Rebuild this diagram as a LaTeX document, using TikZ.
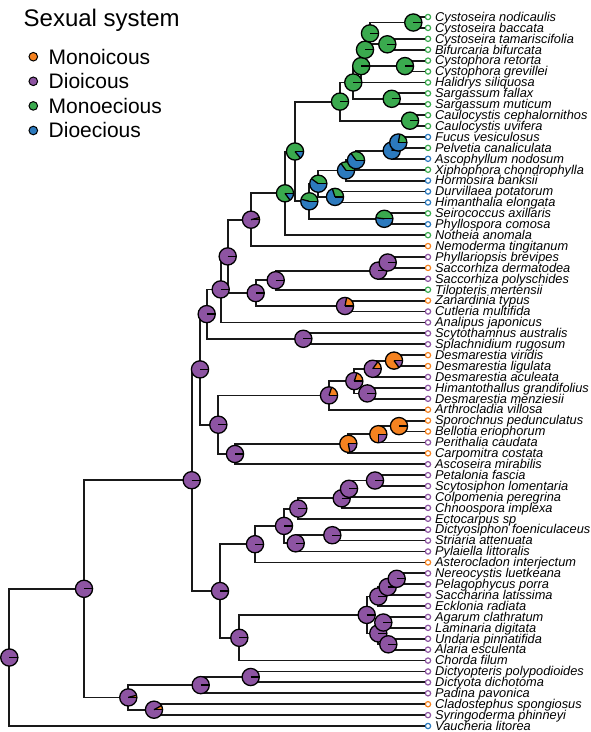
\documentclass[tikz,border=0pt]{standalone}
\usepackage{fontspec}
\setmainfont{Liberation Sans}
\definecolor{cO}{RGB}{245,130,32}
\definecolor{cP}{RGB}{141,84,162}
\definecolor{cG}{RGB}{58,170,78}
\definecolor{cB}{RGB}{44,122,190}
\def\pieR{8.6pt}
\newcommand{\piecut}[2]{\ifdim #2pt>0.5pt \ifdim #2pt<359.5pt \draw[pieline] (#1) -- ++(#2:\pieR);\fi\fi}
\newcommand{\drawpie}[5]{%
  \pgfmathsetmacro\pieA{360*#2}%
  \pgfmathsetmacro\pieB{360*(#2+#3)}%
  \pgfmathsetmacro\pieC{360*(#2+#3+#4)}%
  \ifdim #2pt>0pt \fill[cO] (#1) -- ++(0:\pieR) arc[start angle=0,end angle=\pieA,radius=\pieR] -- cycle;\fi
  \ifdim #3pt>0pt \fill[cP] (#1) -- ++(\pieA:\pieR) arc[start angle=\pieA,end angle=\pieB,radius=\pieR] -- cycle;\fi
  \ifdim #4pt>0pt \fill[cG] (#1) -- ++(\pieB:\pieR) arc[start angle=\pieB,end angle=\pieC,radius=\pieR] -- cycle;\fi
  \ifdim #5pt>0pt \fill[cB] (#1) -- ++(\pieC:\pieR) arc[start angle=\pieC,end angle=360,radius=\pieR] -- cycle;\fi
  \draw[pieline] (#1) circle[radius=\pieR];
  \draw[pieline] (#1) -- ++(0:\pieR);
  \piecut{#1}{\pieA}\piecut{#1}{\pieB}\piecut{#1}{\pieC}%
}
\newcommand{\tip}[4]{%
  \node[tipdot, draw=#3] (#1) at (428, {17+(#2-1)*10.908}) {};
  \node[tiplab] (#1l) at (435, {17+(#2-1)*10.908+4.3}) {#4};
}
\newcommand{\edg}[3]{\draw[edge] (#1) |- (#2); \draw[edge] (#1) |- (#3);}
\begin{document}
\begin{tikzpicture}[x=1pt,y=-1pt,
  edge/.style={line width=1.8pt, line join=miter, black!90},
  pieline/.style={line width=1.3pt, black},
  tipdot/.style={circle, fill=white, line width=1.2pt, minimum size=5.3pt, inner sep=0pt},
  tiplab/.style={anchor=base west, inner sep=0pt, font=\fontsize{12.8pt}{13pt}\selectfont\itshape},
  legtxt/.style={anchor=base west, inner sep=0pt, font=\fontsize{21pt}{24pt}\selectfont},
  legdot/.style={circle, draw=black, line width=1pt, minimum size=8.6pt, inner sep=0pt}]
\useasboundingbox (0,0) rectangle (591,732);
% legend
\node[anchor=base west, inner sep=0pt, font=\fontsize{24pt}{28pt}\selectfont] (title) at (23.5,26) {Sexual system};
\node[legdot, fill=cO] (d1) at (33.3,56.7) {};
\node[legtxt] (l1) at (48.5,64) {Monoicous};
\node[legdot, fill=cP] (d2) at (33.3,81.3) {};
\node[legtxt] (l2) at (48.5,88.6) {Dioicous};
\node[legdot, fill=cG] (d3) at (33.3,105.9) {};
\node[legtxt] (l3) at (48.5,113.2) {Monoecious};
\node[legdot, fill=cB] (d4) at (33.3,130.5) {};
\node[legtxt] (l4) at (48.5,137.8) {Dioecious};
% tips
\tip{t1}{1}{cG}{Cystoseira nodicaulis}
\tip{t2}{2}{cG}{Cystoseira baccata}
\tip{t3}{3}{cG}{Cystoseira tamariscifolia}
\tip{t4}{4}{cG}{Bifurcaria bifurcata}
\tip{t5}{5}{cG}{Cystophora retorta}
\tip{t6}{6}{cG}{Cystophora grevillei}
\tip{t7}{7}{cG}{Halidrys siliquosa}
\tip{t8}{8}{cG}{Sargassum fallax}
\tip{t9}{9}{cG}{Sargassum muticum}
\tip{t10}{10}{cG}{Caulocystis cephalornithos}
\tip{t11}{11}{cG}{Caulocystis uvifera}
\tip{t12}{12}{cB}{Fucus vesiculosus}
\tip{t13}{13}{cG}{Pelvetia canaliculata}
\tip{t14}{14}{cB}{Ascophyllum nodosum}
\tip{t15}{15}{cG}{Xiphophora chondrophylla}
\tip{t16}{16}{cB}{Hormosira banksii}
\tip{t17}{17}{cB}{Durvillaea potatorum}
\tip{t18}{18}{cB}{Himanthalia elongata}
\tip{t19}{19}{cG}{Seirococcus axillaris}
\tip{t20}{20}{cB}{Phyllospora comosa}
\tip{t21}{21}{cG}{Notheia anomala}
\tip{t22}{22}{cO}{Nemoderma tingitanum}
\tip{t23}{23}{cP}{Phyllariopsis brevipes}
\tip{t24}{24}{cO}{Saccorhiza dermatodea}
\tip{t25}{25}{cP}{Saccorhiza polyschides}
\tip{t26}{26}{cG}{Tilopteris mertensii}
\tip{t27}{27}{cO}{Zanardinia typus}
\tip{t28}{28}{cP}{Cutleria multifida}
\tip{t29}{29}{cP}{Analipus japonicus}
\tip{t30}{30}{cP}{Scytothamnus australis}
\tip{t31}{31}{cP}{Splachnidium rugosum}
\tip{t32}{32}{cO}{Desmarestia viridis}
\tip{t33}{33}{cO}{Desmarestia ligulata}
\tip{t34}{34}{cP}{Desmarestia aculeata}
\tip{t35}{35}{cP}{Himantothallus grandifolius}
\tip{t36}{36}{cP}{Desmarestia menziesii}
\tip{t37}{37}{cO}{Arthrocladia villosa}
\tip{t38}{38}{cO}{Sporochnus pedunculatus}
\tip{t39}{39}{cO}{Bellotia eriophorum}
\tip{t40}{40}{cP}{Perithalia caudata}
\tip{t41}{41}{cO}{Carpomitra costata}
\tip{t42}{42}{cP}{Ascoseira mirabilis}
\tip{t43}{43}{cP}{Petalonia fascia}
\tip{t44}{44}{cP}{Scytosiphon lomentaria}
\tip{t45}{45}{cP}{Colpomenia peregrina}
\tip{t46}{46}{cP}{Chnoospora implexa}
\tip{t47}{47}{cP}{Ectocarpus sp}
\tip{t48}{48}{cP}{Dictyosiphon foeniculaceus}
\tip{t49}{49}{cP}{Striaria attenuata}
\tip{t50}{50}{cP}{Pylaiella littoralis}
\tip{t51}{51}{cO}{Asterocladon interjectum}
\tip{t52}{52}{cP}{Nereocystis luetkeana}
\tip{t53}{53}{cP}{Pelagophycus porra}
\tip{t54}{54}{cP}{Saccharina latissima}
\tip{t55}{55}{cP}{Ecklonia radiata}
\tip{t56}{56}{cP}{Agarum clathratum}
\tip{t57}{57}{cP}{Laminaria digitata}
\tip{t58}{58}{cP}{Undaria pinnatifida}
\tip{t59}{59}{cP}{Alaria esculenta}
\tip{t60}{60}{cP}{Chorda filum}
\tip{t61}{61}{cP}{Dictyopteris polypodioides}
\tip{t62}{62}{cP}{Dictyota dichotoma}
\tip{t63}{63}{cP}{Padina pavonica}
\tip{t64}{64}{cO}{Cladostephus spongiosus}
\tip{t65}{65}{cP}{Syringoderma phinneyi}
\tip{t66}{66}{cB}{Vaucheria litorea}
% internal nodes
\coordinate (P1) at (413.3,22.5);
\coordinate (P2) at (387.3,44.3);
\coordinate (P3) at (370,33.4);
\coordinate (CY) at (405,66.1);
\coordinate (P4) at (365,49.75);
\coordinate (P5) at (361.2,66.1);
\coordinate (SG) at (391.7,98.8);
\coordinate (P6) at (353.3,82.5);
\coordinate (CA) at (410,120.7);
\coordinate (G2) at (340,101.6);
\coordinate (FP) at (398.3,142.5);
\coordinate (FA) at (391.7,150.6);
\coordinate (FX) at (356,160.2);
\coordinate (FH) at (346,170.4);
\coordinate (DH) at (335,196.9);
\coordinate (G4) at (318.3,183.7);
\coordinate (G5) at (384.3,218.8);
\coordinate (G3) at (309.3,201.3);
\coordinate (G1) at (295,151.5);
\coordinate (G0) at (285,193.3);
\coordinate (N1) at (251,219.7);
\coordinate (T2) at (387.7,262.5);
\coordinate (T1) at (378.3,270.6);
\coordinate (T0) at (275.7,280.2);
\coordinate (ZC) at (345,306.0);
\coordinate (N4) at (255.7,293.1);
\coordinate (N2) at (227.7,256.4);
\coordinate (N3) at (220.7,289.4);
\coordinate (SS) at (303.3,338.8);
\coordinate (N5) at (206.7,314.1);
\coordinate (D5) at (394,360.6);
\coordinate (D3) at (372.7,368.8);
\coordinate (D4) at (367.3,393.4);
\coordinate (D2) at (354.3,381.1);
\coordinate (D1) at (329,395.4);
\coordinate (S3) at (399,426.1);
\coordinate (S2) at (378.3,434.2);
\coordinate (S1) at (348.3,443.8);
\coordinate (N8) at (235,454.0);
\coordinate (N7) at (218.3,424.7);
\coordinate (N6) at (200,369.4);
\coordinate (E8) at (375,480.5);
\coordinate (E7) at (349,488.8);
\coordinate (E6) at (341.7,498.3);
\coordinate (E3) at (298.3,508.6);
\coordinate (E5) at (332.3,535.2);
\coordinate (E4) at (295.7,543.3);
\coordinate (E2) at (284,525.9);
\coordinate (E1) at (255,544.2);
\coordinate (K4) at (396.7,578.8);
\coordinate (K3) at (387.7,587.0);
\coordinate (K2) at (378.3,596.5);
\coordinate (K6) at (383.3,622.5);
\coordinate (K7) at (388.3,644.3);
\coordinate (K5) at (378.3,633.4);
\coordinate (K1) at (366.7,614.9);
\coordinate (K0) at (239.3,637.8);
\coordinate (L0) at (220,591.0);
\coordinate (B0) at (191.7,480.2);
\coordinate (F0) at (250.7,677.0);
\coordinate (D0) at (200.7,685.1);
\coordinate (E0) at (154,709.7);
\coordinate (C0) at (128.3,697.4);
\coordinate (A0) at (84,588.8);
\coordinate (R0) at (9.3,657.5);
% edges
\edg{P1}{t1.west}{t2.west}
\edg{P2}{t3.west}{t4.west}
\edg{P3}{P1}{P2}
\edg{CY}{t5.west}{t6.west}
\edg{P4}{P3}{CY}
\edg{P5}{P4}{t7.west}
\edg{SG}{t8.west}{t9.west}
\edg{P6}{P5}{SG}
\edg{CA}{t10.west}{t11.west}
\edg{G2}{P6}{CA}
\edg{FP}{t12.west}{t13.west}
\edg{FA}{FP}{t14.west}
\edg{FX}{FA}{t15.west}
\edg{FH}{FX}{t16.west}
\edg{DH}{t17.west}{t18.west}
\edg{G4}{FH}{DH}
\edg{G5}{t19.west}{t20.west}
\edg{G3}{G4}{G5}
\edg{G1}{G2}{G3}
\edg{G0}{G1}{t21.west}
\edg{N1}{G0}{t22.west}
\edg{T2}{t23.west}{t24.west}
\edg{T1}{T2}{t25.west}
\edg{T0}{T1}{t26.west}
\edg{ZC}{t27.west}{t28.west}
\edg{N4}{T0}{ZC}
\edg{N2}{N1}{N4}
\edg{N3}{N2}{t29.west}
\edg{SS}{t30.west}{t31.west}
\edg{N5}{N3}{SS}
\edg{D5}{t32.west}{t33.west}
\edg{D3}{D5}{t34.west}
\edg{D4}{t35.west}{t36.west}
\edg{D2}{D3}{D4}
\edg{D1}{D2}{t37.west}
\edg{S3}{t38.west}{t39.west}
\edg{S2}{S3}{t40.west}
\edg{S1}{S2}{t41.west}
\edg{N8}{S1}{t42.west}
\edg{N7}{D1}{N8}
\edg{N6}{N5}{N7}
\edg{E8}{t43.west}{t44.west}
\edg{E7}{E8}{t45.west}
\edg{E6}{E7}{t46.west}
\edg{E3}{E6}{t47.west}
\edg{E5}{t48.west}{t49.west}
\edg{E4}{E5}{t50.west}
\edg{E2}{E3}{E4}
\edg{E1}{E2}{t51.west}
\edg{K4}{t52.west}{t53.west}
\edg{K3}{K4}{t54.west}
\edg{K2}{K3}{t55.west}
\edg{K6}{t56.west}{t57.west}
\edg{K7}{t58.west}{t59.west}
\edg{K5}{K6}{K7}
\edg{K1}{K2}{K5}
\edg{K0}{K1}{t60.west}
\edg{L0}{E1}{K0}
\edg{B0}{N6}{L0}
\edg{F0}{t61.west}{t62.west}
\edg{D0}{F0}{t63.west}
\edg{E0}{t64.west}{t65.west}
\edg{C0}{D0}{E0}
\edg{A0}{B0}{C0}
\edg{R0}{A0}{t66.west}
% pies
\drawpie{R0}{0}{1}{0}{0}
\drawpie{A0}{0}{1}{0}{0}
\drawpie{C0}{0.04}{0.96}{0}{0}
\drawpie{E0}{0.08}{0.92}{0}{0}
\drawpie{D0}{0}{1}{0}{0}
\drawpie{F0}{0}{1}{0}{0}
\drawpie{B0}{0}{1}{0}{0}
\drawpie{L0}{0}{1}{0}{0}
\drawpie{K0}{0}{1}{0}{0}
\drawpie{E1}{0}{1}{0}{0}
\drawpie{E2}{0}{1}{0}{0}
\drawpie{E3}{0}{1}{0}{0}
\drawpie{E4}{0}{1}{0}{0}
\drawpie{E5}{0}{1}{0}{0}
\drawpie{E6}{0}{1}{0}{0}
\drawpie{E7}{0}{1}{0}{0}
\drawpie{E8}{0}{1}{0}{0}
\drawpie{K1}{0}{1}{0}{0}
\drawpie{K2}{0}{1}{0}{0}
\drawpie{K3}{0}{1}{0}{0}
\drawpie{K4}{0}{1}{0}{0}
\drawpie{K5}{0}{1}{0}{0}
\drawpie{K6}{0}{1}{0}{0}
\drawpie{K7}{0}{1}{0}{0}
\drawpie{N6}{0}{1}{0}{0}
\drawpie{N7}{0}{1}{0}{0}
\drawpie{N8}{0}{1}{0}{0}
\drawpie{S1}{0.78}{0.22}{0}{0}
\drawpie{S2}{0.75}{0.25}{0}{0}
\drawpie{S3}{1}{0}{0}{0}
\drawpie{D1}{0.2}{0.8}{0}{0}
\drawpie{D2}{0.2}{0.8}{0}{0}
\drawpie{D4}{0}{1}{0}{0}
\drawpie{D3}{0.15}{0.85}{0}{0}
\drawpie{D5}{0.85}{0.15}{0}{0}
\drawpie{N5}{0}{1}{0}{0}
\drawpie{SS}{0}{1}{0}{0}
\drawpie{N3}{0}{1}{0}{0}
\drawpie{N2}{0}{1}{0}{0}
\drawpie{N4}{0}{1}{0}{0}
\drawpie{ZC}{0.22}{0.78}{0}{0}
\drawpie{T0}{0}{1}{0}{0}
\drawpie{T1}{0}{1}{0}{0}
\drawpie{T2}{0}{1}{0}{0}
\drawpie{N1}{0.04}{0.96}{0}{0}
\drawpie{G0}{0}{0}{0.85}{0.15}
\drawpie{G1}{0}{0}{0.86}{0.14}
\drawpie{G3}{0}{0}{0.46}{0.54}
\drawpie{G5}{0}{0}{0.48}{0.52}
\drawpie{G4}{0}{0}{0.4}{0.6}
\drawpie{DH}{0}{0}{0.3}{0.7}
\drawpie{FH}{0}{0}{0.35}{0.65}
\drawpie{FX}{0}{0}{0.35}{0.65}
\drawpie{FA}{0}{0}{0.15}{0.85}
\drawpie{FP}{0}{0}{0.22}{0.78}
\drawpie{G2}{0}{0}{1}{0}
\drawpie{CA}{0}{0}{1}{0}
\drawpie{P6}{0}{0}{1}{0}
\drawpie{SG}{0}{0}{1}{0}
\drawpie{P5}{0}{0}{1}{0}
\drawpie{P4}{0}{0}{1}{0}
\drawpie{CY}{0}{0}{1}{0}
\drawpie{P3}{0}{0}{1}{0}
\drawpie{P2}{0}{0}{1}{0}
\drawpie{P1}{0}{0}{1}{0}
\end{tikzpicture}
\end{document}
